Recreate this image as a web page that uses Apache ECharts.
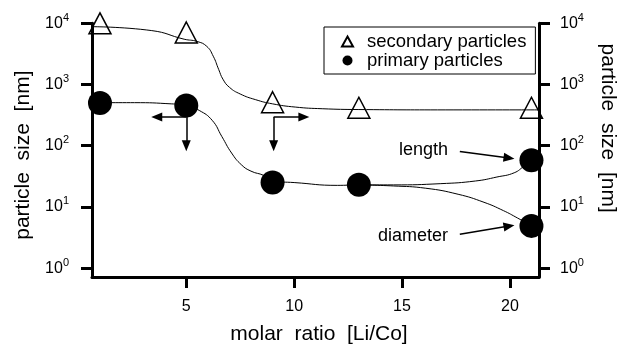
<!DOCTYPE html>
<html>
<head>
<meta charset="utf-8">
<script src="https://cdn.jsdelivr.net/npm/echarts@6/dist/echarts.min.js"></script>
<style>
html, body { margin: 0; padding: 0; background: #fff; }
#main { width: 626px; height: 350px; }
</style>
</head>
<body>
<div id="main"></div>
<script>
// measured points
var ratioSec = [1, 5, 9, 13, 21];
var secondary = [8750, 6200, 450, 365, 365];
var ratioPri = [1, 5, 9, 13, 21, 21];
var primary = [500, 455, 25, 23, 58, 4.9];

// guide curves
var secCurveX = [0.63, 3.4, 4.9, 5.5, 5.95, 6.25, 6.5, 6.7, 7.0, 7.5, 8.2, 9.0, 10.05, 11.3, 13, 17, 21.35];
var secCurveY = [8800, 7600, 5500, 5050, 4200, 2900, 1770, 1220, 900, 700, 567, 483, 428, 402, 390, 385, 385];
var priCurveX = [0.63, 2.6, 4.3, 5.0, 5.6, 6.2, 6.65, 7.1, 7.55, 8.0, 8.6, 9.0, 10.0, 12.0, 13.0, 14.6, 16.8, 18.4, 19.4, 20.2, 20.65, 21.02];
var priCurveY = [505, 505, 483, 455, 377, 260, 141, 76, 49, 38.4, 32.6, 26.5, 25, 22.5, 22.9, 22.9, 24.0, 26.5, 30.8, 36.1, 46.2, 57.8];
var diaCurveX = [13.0, 14.6, 16.1, 17.6, 18.8, 19.7, 20.35, 21.02];
var diaCurveY = [22.9, 22.0, 20.2, 16.1, 11.9, 8.7, 6.6, 4.87];

// axis ticks
var xTicks = [5, 10, 15, 20];
var yTicks = [1, 10, 100, 1000, 10000];

// arrows drawn on the plot: [from, to]
var arrows = [
    [[5, 295], [3.63, 295]],
    [[5, 295], [5, 100]],
    [[9.05, 295], [10.45, 295]],
    [[9.05, 295], [9.05, 100]]
];
var notes = [
    {text: 'length', from: [17.68, 80.7], to: [19.96, 63]},
    {text: 'diameter', from: [17.68, 3.58], to: [19.96, 4.87]}
];

var FONT = '"Liberation Sans", Arial, Helvetica, sans-serif';

function pairs(xs, ys) {
    return xs.map(function (x, i) { return [x, ys[i]]; });
}

var chart = echarts.init(document.getElementById('main'));

var markData = arrows.map(function (a) {
    return [{coord: a[0]}, {coord: a[1]}];
});
notes.forEach(function (n) {
    markData.push([
        {coord: n.from, label: {show: true, formatter: n.text}},
        {coord: n.to}
    ]);
});

var yLabel = {
    fontSize: 16,
    lineHeight: 22,
    color: '#000',
    fontFamily: FONT,
    customValues: yTicks,
    formatter: function (v) {
        var e = Math.round(Math.log(v) / Math.LN10);
        return '10{sup|' + e + '}';
    },
    rich: {
        sup: {fontSize: 11, lineHeight: 11, verticalAlign: 'top', fontFamily: FONT, color: '#000'}
    }
};

function curve(xs, ys) {
    return {
        type: 'line',
        data: pairs(xs, ys),
        smooth: 0.5,
        showSymbol: false,
        symbol: 'none',
        lineStyle: {color: '#000', width: 1},
        z: 2,
        silent: true
    };
}

var priLine = curve(priCurveX, priCurveY);
priLine.markLine = {
    silent: true,
    symbol: ['none', 'triangle'],
    symbolSize: [9, 11],
    lineStyle: {color: '#000', width: 1.5, type: 'solid'},
    label: {
        show: false,
        position: 'start',
        distance: 12,
        fontSize: 18,
        color: '#000',
        fontFamily: FONT
    },
    emphasis: {disabled: true},
    data: markData
};

var option = {
    animation: false,
    backgroundColor: '#fff',
    grid: {left: 92, right: 80.5, top: 23.3, bottom: 69.3},
    legend: {
        left: 324,
        top: 27,
        orient: 'vertical',
        padding: [5, 9, 4, 17],
        itemGap: 0,
        itemWidth: 11,
        itemHeight: 10,
        borderColor: '#000',
        borderWidth: 1,
        selectedMode: false,
        textStyle: {fontSize: 18.5, lineHeight: 18.6, color: '#000', fontFamily: FONT, padding: [0, 0, 0, 9]},
        data: [
            {name: 'secondary particles', icon: 'triangle'},
            {name: 'primary particles', icon: 'circle'}
        ]
    },
    xAxis: {
        type: 'value',
        min: 0.63,
        max: 21.35,
        name: 'molar  ratio  [Li/Co]',
        nameLocation: 'middle',
        nameGap: 47,
        nameTextStyle: {fontSize: 21, color: '#000', fontFamily: FONT, padding: [0, 0, 0, 7]},
        axisLine: {lineStyle: {color: '#000', width: 3}},
        axisTick: {show: true, length: 11, customValues: xTicks, lineStyle: {color: '#000', width: 3}},
        axisLabel: {fontSize: 16, color: '#000', fontFamily: FONT, margin: 22, customValues: xTicks},
        splitLine: {show: false}
    },
    yAxis: [{
        type: 'log',
        position: 'left',
        min: 0.716,
        max: 10000,
        name: 'particle  size  [nm]',
        nameLocation: 'middle',
        nameGap: 58,
        nameTextStyle: {fontSize: 21, color: '#000', fontFamily: FONT, padding: [0, 10, 0, 0]},
        axisLine: {show: true, lineStyle: {color: '#000', width: 3}},
        axisTick: {show: true, length: 11, customValues: yTicks, lineStyle: {color: '#000', width: 3}},
        axisLabel: Object.assign({margin: 23}, yLabel),
        splitLine: {show: false}
    }, {
        type: 'log',
        position: 'right',
        min: 0.716,
        max: 10000,
        name: 'particle  size  [nm]',
        nameLocation: 'middle',
        nameRotate: -90,
        nameGap: 58,
        nameTextStyle: {fontSize: 21, color: '#000', fontFamily: FONT, padding: [0, 44, 0, 0]},
        axisLine: {show: true, lineStyle: {color: '#000', width: 3}},
        axisTick: {show: true, length: 11, customValues: yTicks, lineStyle: {color: '#000', width: 3}},
        axisLabel: Object.assign({margin: 21}, yLabel),
        splitLine: {show: false}
    }],
    series: [
        curve(secCurveX, secCurveY),
        priLine,
        curve(diaCurveX, diaCurveY),
        {
            name: 'secondary particles',
            type: 'scatter',
            data: pairs(ratioSec, secondary),
            symbol: 'triangle',
            symbolSize: [22, 21],
            symbolOffset: [0, -3.5],
            clip: false,
            itemStyle: {color: 'rgba(0,0,0,0)', borderColor: '#000', borderWidth: 1.5, opacity: 1},
            z: 3
        },
        {
            name: 'primary particles',
            type: 'scatter',
            data: pairs(ratioPri, primary),
            symbol: 'circle',
            symbolSize: 24,
            clip: false,
            itemStyle: {color: '#000', opacity: 1},
            z: 3
        }
    ]
};

chart.setOption(option);
</script>
</body>
</html>
